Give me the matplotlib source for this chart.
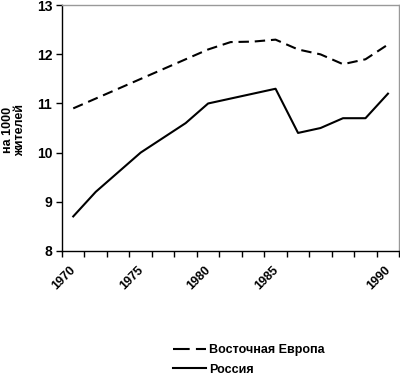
import matplotlib
matplotlib.use("Agg")
import matplotlib.pyplot as plt
from matplotlib.lines import Line2D
from matplotlib.transforms import ScaledTranslation

plt.rcParams['font.family'] = ['Liberation Sans', 'DejaVu Sans']

categories = ['1970', '', '', '1975', '', '', '1980', '', '', '1985', '', '', '', '', '1990']
east_europe = [10.9, 11.1, 11.3, 11.5, 11.7, 11.9, 12.1, 12.25, 12.26, 12.3, 12.1, 12.0, 11.8, 11.9, 12.2]
russia = [8.7, 9.2, 9.6, 10.0, 10.3, 10.6, 11.0, 11.1, 11.2, 11.3, 10.4, 10.5, 10.7, 10.7, 11.2]
label_east = 'Восточная Европа'
label_russia = 'Россия'
ylabel = 'на 1000\nжителей'

fig = plt.figure(figsize=(4.0, 3.76), dpi=100)
ax = fig.add_axes([0.155, 0.333, 0.843, 0.653])

x = list(range(len(categories)))
ax.plot(x, east_europe, color='black', lw=1.5, dashes=(5, 2.8))
ax.plot(x, russia, color='black', lw=1.5)

ax.set_xlim(-0.5, len(categories) - 0.5)
ax.set_ylim(8, 13)
ax.set_yticks([8, 9, 10, 11, 12, 13])
ax.set_yticklabels(['8', '9', '10', '11', '12', '13'], fontsize=10, fontweight='bold')

# ticks at category boundaries, labels at centers
ax.set_xticks([i - 0.5 for i in range(len(categories) + 1)])
ax.set_xticklabels([])
ax.set_xticks(x, minor=True)
ax.set_xticklabels(categories, minor=True, rotation=45, ha='right', va='top',
                   fontsize=9, fontweight='bold')
ax.tick_params(axis='x', which='minor', length=0, pad=9.5)
ax.tick_params(axis='x', which='major', length=4, direction='out', width=1)
ax.tick_params(axis='y', length=4, direction='out', width=1, pad=3)
offset = ScaledTranslation(5 / 100, 0, fig.dpi_scale_trans)
for lbl in ax.get_xticklabels(minor=True):
    lbl.set_transform(lbl.get_transform() + offset)

for s in ['top', 'right']:
    ax.spines[s].set_color('#999999')
    ax.spines[s].set_linewidth(1)
for s in ['left', 'bottom']:
    ax.spines[s].set_color('black')
    ax.spines[s].set_linewidth(1)

fig.text(0.036, 0.655, ylabel, rotation=90, ha='center', va='center',
         fontsize=9, fontweight='bold', linespacing=1.0)

handles = [Line2D([], [], color='black', lw=1.5, dashes=(8, 3)),
           Line2D([], [], color='black', lw=1.5)]
leg = fig.legend(handles, [label_east, label_russia], loc='center left',
                 bbox_to_anchor=(0.433, 0.043), frameon=False,
                 prop={'weight': 'bold', 'size': 9}, handlelength=2.6,
                 handletextpad=0.3, labelspacing=0.6, borderaxespad=0,
                 borderpad=0)

fig.savefig('out.png', dpi=100)
